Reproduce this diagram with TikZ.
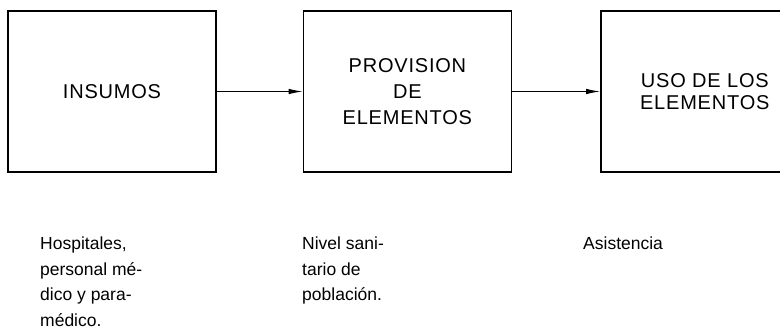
\documentclass[tikz,border=0pt]{standalone}
\usepackage{fontspec}
\setmainfont{Liberation Sans}
\usetikzlibrary{arrows.meta, positioning}

\begin{document}
\begin{tikzpicture}[
    x=1pt, y=1pt,
    >={Latex[length=14pt,width=5.5pt]},
    node distance=86pt,
    stage/.style = {rectangle, draw=black, line width=1.4pt,
                    minimum width=208pt, minimum height=161pt,
                    inner sep=0pt, align=center,
                    font=\fontsize{20}{26}\selectfont\addfontfeature{LetterSpace=4}},
    note/.style  = {anchor=north west, inner sep=0pt, align=left,
                    font=\fontsize{17.5}{25.5}\selectfont},
    flow/.style  = {->, line width=1pt},
]
\useasboundingbox (0,0) rectangle (780,332);

\node[stage] at (112,240.5) (insumos) {INSUMOS};
\node[stage, right=86pt of insumos] (provision)
    {PROVISION\\DE\\ELEMENTOS};
\node[stage, right=88pt of provision,
      font=\fontsize{20}{22}\selectfont\addfontfeature{LetterSpace=4}] (uso)
    {USO DE LOS\\ELEMENTOS};

\draw[flow] (insumos)   -- (provision);
\draw[flow] (provision) -- (uso);

% notes below the stages
\node[note] at (40,95)  (hosp) {Hospitales,\\personal mé-\\dico y para-\\médico.};
\node[note] at (302,95) (nivel) {Nivel sani-\\tario de\\población.};
\node[note] at (583,95) (asist) {Asistencia};

\end{tikzpicture}
\end{document}
